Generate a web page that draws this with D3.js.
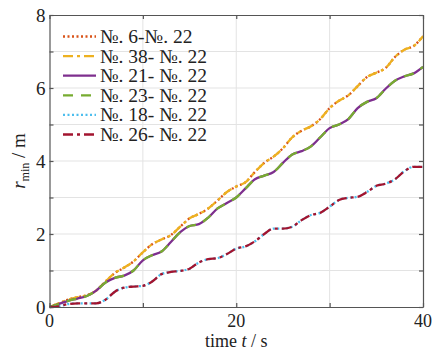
<!DOCTYPE html>
<html><head><meta charset="utf-8">
<script src="https://cdn.jsdelivr.net/npm/d3@7"></script>
<style>body{margin:0;background:#fff}svg{display:block}svg text{font-family:"Times New Roman",Tinos,"Liberation Serif","DejaVu Serif",Times,serif}</style>
</head><body><svg id="c" width="433" height="351"></svg>
<script>
const times = d3.range(0, 41);
const upperPair = [0,0.1,0.2,0.27,0.32,0.45,0.7,0.93,1.08,1.25,1.5,1.72,1.85,1.97,2.2,2.43,2.55,2.7,2.92,3.15,3.3,3.42,3.7,3.95,4.12,4.35,4.65,4.83,4.95,5.15,5.45,5.65,5.8,6.05,6.3,6.42,6.55,6.85,7.05,7.15,7.42];
const middlePair = [0,0.08,0.17,0.23,0.3,0.45,0.67,0.8,0.86,1.0,1.28,1.42,1.52,1.78,2.05,2.22,2.27,2.45,2.7,2.85,3.0,3.25,3.5,3.6,3.7,3.95,4.18,4.27,4.4,4.65,4.9,5.0,5.15,5.45,5.62,5.72,5.98,6.2,6.32,6.4,6.58];
const lowerPair = [0,0.02,0.08,0.1,0.1,0.1,0.2,0.42,0.53,0.56,0.58,0.7,0.9,0.96,0.99,1.05,1.22,1.31,1.34,1.45,1.6,1.66,1.8,2.0,2.15,2.15,2.2,2.38,2.52,2.58,2.75,2.93,2.99,3.02,3.15,3.32,3.38,3.5,3.72,3.84,3.84];
const seriesNames = ["№. 6-№. 22","№. 38- №. 22","№. 21- №. 22","№. 23- №. 22","№. 18- №. 22","№. 26- №. 22"];
const seriesValues = [upperPair, upperPair, middlePair, middlePair, lowerPair, lowerPair];
const seriesColors = ["#D95319","#EDB120","#7E2F8E","#77AC30","#4DBEEE","#A2142F"];
const seriesDash = ["2,2.5","10,4,3,4",null,"10,8","2,2.5","10,4,3,4"];
const xTicks = [0,20,40];
const yTicks = [0,2,4,6,8];

const svg = d3.select("#c");
const L=49.5, R=423, T=15, B=307;
const x = d3.scaleLinear().domain([0,40]).range([L,R]);
const y = d3.scaleLinear().domain([0,8]).range([B,T]);

// grid
svg.append("g").selectAll("line").data([10,20,30]).join("line")
  .attr("x1",d=>x(d)).attr("x2",d=>x(d)).attr("y1",T).attr("y2",B)
  .attr("stroke","#e3e3e3").attr("stroke-width",1);
svg.append("g").selectAll("line").data(d3.range(1,8)).join("line")
  .attr("y1",d=>y(d)).attr("y2",d=>y(d)).attr("x1",L).attr("x2",R)
  .attr("stroke","#e3e3e3").attr("stroke-width",1);

// lines
const line = d3.line().x((d,i)=>x(times[i])).y(d=>y(d)).curve(d3.curveMonotoneX);
svg.append("clipPath").attr("id","cp").append("rect").attr("x",L).attr("y",T-2).attr("width",R-L+2).attr("height",B-T+4);
seriesValues.forEach((vals,k)=>{
  svg.append("path").datum(vals).attr("d",line).attr("fill","none")
    .attr("stroke",seriesColors[k]).attr("stroke-width",2.3)
    .attr("stroke-dasharray",seriesDash[k]).attr("clip-path","url(#cp)");
});

// axes box with inward ticks
const axisColor = "#555";
const gB = svg.append("g").attr("transform",`translate(0,${B})`).call(d3.axisBottom(x).tickValues([0,10,20,30,40]).tickSizeInner(-4).tickSizeOuter(0).tickFormat(""));
const gT = svg.append("g").attr("transform",`translate(0,${T})`).call(d3.axisTop(x).tickValues([0,10,20,30,40]).tickSizeInner(-4).tickSizeOuter(0).tickFormat(""));
const gL = svg.append("g").attr("transform",`translate(${L},0)`).call(d3.axisLeft(y).tickValues(d3.range(0,9)).tickSizeInner(-4).tickSizeOuter(0).tickFormat(""));
const gR = svg.append("g").attr("transform",`translate(${R},0)`).call(d3.axisRight(y).tickValues(d3.range(0,9)).tickSizeInner(-4).tickSizeOuter(0).tickFormat(""));
[gB,gT,gL,gR].forEach(g=>{g.selectAll("path,line").attr("stroke",axisColor).attr("stroke-width",1.2);});

// tick labels
svg.append("g").selectAll("text").data(xTicks).join("text")
  .attr("x",d=>x(d)).attr("y",327).attr("text-anchor","middle")
  .attr("font-size",18).attr("fill","#222").text(d=>d);
svg.append("g").selectAll("text").data(yTicks).join("text")
  .attr("x",L-4).attr("y",d=>y(d)+6.5).attr("text-anchor","end")
  .attr("font-size",19).attr("fill","#222").text(d=>d);

// axis titles
const xt = svg.append("text").attr("x",(L+R)/2).attr("y",347).attr("text-anchor","middle")
  .attr("font-size",18).attr("fill","#222");
xt.append("tspan").text("time ");
xt.append("tspan").attr("font-style","italic").text("t");
xt.append("tspan").text(" / s");
const yt = svg.append("text").attr("transform",`translate(25,${(T+B)/2}) rotate(-90)`).attr("text-anchor","middle")
  .attr("font-size",19).attr("fill","#222");
yt.append("tspan").attr("font-style","italic").text("r");
yt.append("tspan").attr("font-size",12).attr("dy",4).text("min");
yt.append("tspan").attr("dy",-4).text(" / m");

// legend
const lg = svg.append("g");
seriesNames.forEach((n,k)=>{
  const yy = 36.5 + k*19.6;
  lg.append("line").attr("x1",63).attr("x2",96).attr("y1",yy).attr("y2",yy)
    .attr("stroke",seriesColors[k]).attr("stroke-width",2.3).attr("stroke-dasharray",seriesDash[k]);
  lg.append("text").attr("x",100).attr("y",yy+6.5).attr("font-size",19.5)
    .attr("fill","#222").text(n);
});
</script></body></html>
